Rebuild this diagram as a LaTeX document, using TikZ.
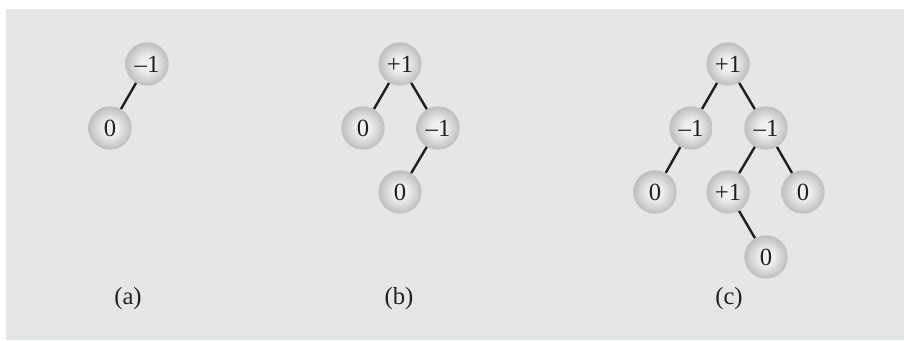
\documentclass[tikz,border=0pt]{standalone}
\usepackage{fontspec}
\setmainfont{Liberation Serif}
\usepackage{tikz}

\definecolor{panel}{RGB}{229,230,232}
\definecolor{ballin}{RGB}{240,240,240}
\definecolor{ballout}{RGB}{190,190,190}
\definecolor{ink}{RGB}{35,31,32}
\pgfdeclareradialshading{ballshade}{\pgfpoint{0bp}{0bp}}{color(0bp)=(ballin); color(8bp)=(ballin); color(25bp)=(ballout); color(50bp)=(ballout)}

\begin{document}
\begin{tikzpicture}[x=0.75pt,y=0.75pt,
  bal/.style={circle, shading=ballshade, minimum size=32.5pt, inner sep=0pt, text=ink, font=\fontsize{18.5}{21}\selectfont},
  edge/.style={draw=ink, line width=1.8pt},
  lbl/.style={text=ink, font=\fontsize{18.5}{21}\selectfont}]
\useasboundingbox (0,0) rectangle (904,340);
\fill[panel] (6,0) rectangle (904,331);

% (a)
\node[bal] (a1) at (147,276) {–1};
\node[bal] (a2) at (110,212) {0};
\draw[edge] (a1) -- (a2);
\node[lbl] (la) at (128,41) {(a)};

% (b)
\node[bal] (b1) at (400,276) {+1};
\node[bal] (b2) at (363,212) {0};
\node[bal] (b3) at (438,212) {–1};
\node[bal] (b4) at (400,148) {0};
\draw[edge] (b1) -- (b2);
\draw[edge] (b1) -- (b3);
\draw[edge] (b3) -- (b4);
\node[lbl] (lb) at (399,41) {(b)};

% (c)
\node[bal] (c1) at (728,276) {+1};
\node[bal] (c2) at (691,212) {–1};
\node[bal] (c3) at (766,212) {–1};
\node[bal] (c4) at (655,148) {0};
\node[bal] (c5) at (728,148) {+1};
\node[bal] (c6) at (803,148) {0};
\node[bal] (c7) at (766,83) {0};
\draw[edge] (c1) -- (c2);
\draw[edge] (c1) -- (c3);
\draw[edge] (c2) -- (c4);
\draw[edge] (c3) -- (c5);
\draw[edge] (c3) -- (c6);
\draw[edge] (c5) -- (c7);
\node[lbl] (lc) at (729,41) {(c)};
\end{tikzpicture}
\end{document}
